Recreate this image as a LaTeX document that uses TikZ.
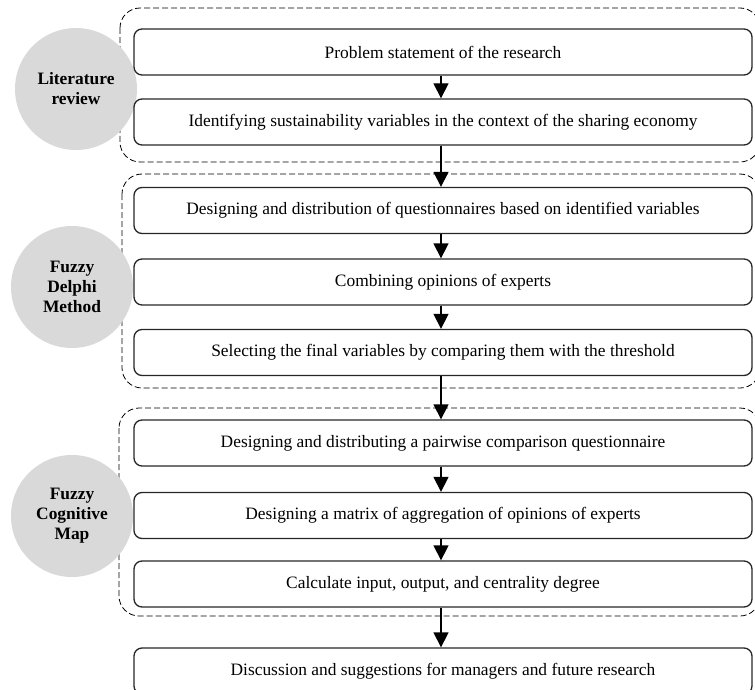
\documentclass[tikz,border=0pt]{standalone}
\usepackage{fontspec}
\setmainfont{Liberation Serif}
\usetikzlibrary{arrows.meta}
\tikzset{
  stepbox/.style={draw=black!85, line width=1.3pt, rounded corners=8pt,
    minimum width=618pt, minimum height=46pt, inner sep=0pt,
    font=\fontsize{17.4}{20}\selectfont},
  phase/.style={circle, fill=black!15, minimum size=122pt, inner sep=0pt,
    align=center, font=\fontsize{17.4}{20}\selectfont\bfseries},
  group/.style={draw=black, line width=0.8pt, dash pattern=on 6pt off 3pt,
    rounded corners=20pt},
  flow/.style={line width=1.3pt, -{Triangle[width=15pt,length=15pt]}}
}
\begin{document}
\begin{tikzpicture}[x=1pt,y=-1pt]
  \useasboundingbox (0,0) rectangle (755,690);
  \clip (0,0) rectangle (755,690);
  % dashed frames of the three phases
  \draw[group] (120,8) rectangle (760,162);
  \draw[group] (122,174) rectangle (760,388);
  \draw[group] (119,408) rectangle (760,616);
  % phases
  \node[phase] (lit) at (76,89) {Literature\\review};
  \node[phase] (fdm) at (72,287) {Fuzzy\\Delphi\\Method};
  \node[phase] (fcm) at (72,516) {Fuzzy\\Cognitive\\Map};
  % steps
  \node[stepbox] (b1) at (443,52) {Problem statement of the research};
  \node[stepbox] (b2) at (443,122) {Identifying sustainability variables in the context of the sharing economy};
  \node[stepbox] (b3) at (443,210.5) {Designing and distribution of questionnaires based on identified variables};
  \node[stepbox] (b4) at (443,282) {Combining opinions of experts};
  \node[stepbox] (b5) at (443,352.5) {Selecting the final variables by comparing them with the threshold};
  \node[stepbox] (b6) at (443,443) {Designing and distributing a pairwise comparison questionnaire};
  \node[stepbox] (b7) at (443,515.5) {Designing a matrix of aggregation of opinions of experts};
  \node[stepbox] (b8) at (443,584) {Calculate input, output, and centrality degree};
  \node[stepbox] (b9) at (443,671) {Discussion and suggestions for managers and future research};
  \foreach \a/\b in {b1/b2,b2/b3,b3/b4,b4/b5,b5/b6,b6/b7,b7/b8,b8/b9}
    \draw[flow] ([xshift=-2pt]\a.south) -- ([xshift=-2pt]\b.north);
\end{tikzpicture}
\end{document}
